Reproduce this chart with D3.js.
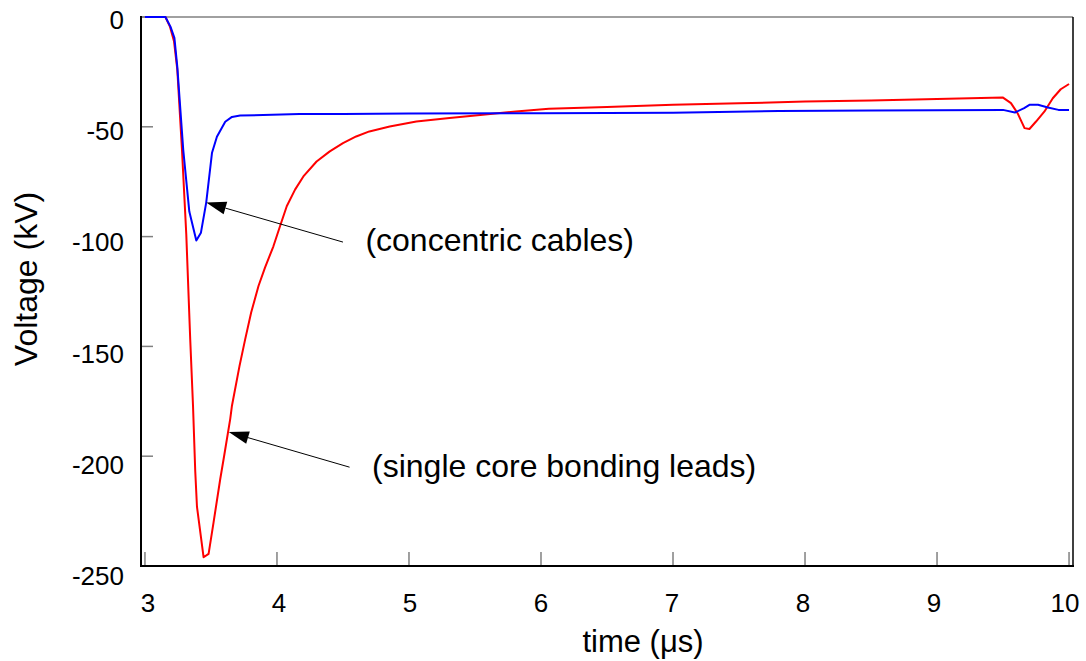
<!DOCTYPE html>
<html>
<head>
<meta charset="utf-8">
<script src="https://cdn.jsdelivr.net/npm/d3@7"></script>
<style>
  html, body { margin: 0; padding: 0; background: #fff; }
  svg { display: block; }
  text { font-family: "Liberation Sans", Arial, sans-serif; fill: #000; }
</style>
</head>
<body>
<svg id="chart" width="1086" height="661"></svg>
<script>
// ---- data ----
const concentricTime = [3.0, 3.155, 3.193, 3.223, 3.245, 3.29, 3.336, 3.389, 3.424, 3.464, 3.508, 3.545, 3.608, 3.659, 3.721, 4.17, 4.5, 5.0, 6.0, 7.0, 7.8, 8.5, 9.0, 9.5, 9.59, 9.66, 9.70, 9.765, 9.84, 9.92, 10.0];
const concentricVolt = [0, 0, -4.4, -9.5, -22.7, -60.5, -88.6, -101.8, -98.2, -84.5, -61.8, -54.5, -47.7, -45.5, -44.9, -44.2, -44.2, -44.0, -43.8, -43.6, -42.8, -42.6, -42.5, -42.3, -43.5, -41.5, -40.0, -40.0, -41.2, -42.3, -42.3];

const singleTime = [3.0, 3.155, 3.19, 3.22, 3.245, 3.28, 3.313, 3.343, 3.364, 3.381, 3.394, 3.444, 3.482, 3.52, 3.57, 3.60, 3.646, 3.659, 3.716, 3.759, 3.804, 3.86, 3.91, 3.973, 4.023, 4.074, 4.137, 4.2, 4.3, 4.4, 4.5, 4.6, 4.7, 4.854, 5.056, 5.307, 5.559, 5.81, 6.06, 6.5, 7.0, 7.5, 8.0, 8.5, 9.0, 9.5, 9.56, 9.61, 9.663, 9.70, 9.75, 9.814, 9.877, 9.937, 10.0];
const singleVolt = [0, 0, -4.5, -11, -24, -60, -99, -147, -177, -207, -223, -246, -244.5, -230, -210.5, -199.8, -183, -177, -159, -146.8, -134.7, -122.5, -114, -104.4, -95.3, -86.2, -78.6, -72.6, -65.8, -61.2, -57.4, -54.4, -52.1, -49.9, -47.6, -46.0, -44.5, -43.0, -41.8, -41.0, -40.0, -39.3, -38.5, -38.0, -37.3, -36.7, -39.2, -43.8, -50.6, -51.0, -47.6, -43.0, -37.0, -32.9, -30.5];

const xTicks = [3, 4, 5, 6, 7, 8, 9, 10];
const yTicks = [0, -50, -100, -150, -200, -250];

const annotations = [
  { text: "(concentric cables)", tipT: 3.464, tipV: -84.5, endT: 4.50, endV: -102.5, labT: 4.67, labV: -106.5 },
  { text: "(single core bonding leads)", tipT: 3.635, tipV: -189, endT: 4.55, endV: -205, labT: 4.72, labV: -209.5 }
];

// ---- layout ----
const svg = d3.select("#chart");
const L = 141, R = 1073, T = 17, B = 566;

const x = d3.scaleLinear().domain([2.97, 10.03]).range([L, R]);
const y = d3.scaleLinear().domain([0, -250]).range([T, B]);
// label positions (labels in the original are spaced slightly differently from ticks)
const xLab = d3.scaleLinear().domain([3, 10]).range([148, 1065]);
const yLab = d3.scaleLinear().domain([0, -250]).range([29, 585]);

// ticks (grey, pointing inward)
svg.append("g").selectAll("line").data(yTicks).join("line")
  .attr("x1", L).attr("x2", L + 12)
  .attr("y1", d => y(d)).attr("y2", d => y(d))
  .attr("stroke", "#808080").attr("stroke-width", 1.5);
svg.append("g").selectAll("line").data(xTicks).join("line")
  .attr("x1", d => x(d)).attr("x2", d => x(d))
  .attr("y1", B).attr("y2", B - 14)
  .attr("stroke", "#808080").attr("stroke-width", 1.5);

// frame
svg.append("line").attr("x1", L).attr("x2", R).attr("y1", T).attr("y2", T)
  .attr("stroke", "#808080").attr("stroke-width", 1.5);
svg.append("line").attr("x1", R).attr("x2", R).attr("y1", T).attr("y2", B)
  .attr("stroke", "#000").attr("stroke-width", 1.5);
svg.append("line").attr("x1", L).attr("x2", R + 1).attr("y1", B).attr("y2", B)
  .attr("stroke", "#000").attr("stroke-width", 2);
svg.append("line").attr("x1", L).attr("x2", L).attr("y1", T - 1).attr("y2", B + 1)
  .attr("stroke", "#000").attr("stroke-width", 2);

// tick labels
svg.append("g").selectAll("text").data(yTicks).join("text")
  .attr("x", 124).attr("y", d => yLab(d))
  .attr("text-anchor", "end").attr("font-size", 26)
  .text(d => d);
svg.append("g").selectAll("text").data(xTicks).join("text")
  .attr("x", d => xLab(d)).attr("y", 612)
  .attr("text-anchor", "middle").attr("font-size", 26)
  .text(d => d);

// axis titles
svg.append("text").attr("x", 643).attr("y", 652)
  .attr("text-anchor", "middle").attr("font-size", 31)
  .text("time (μs)");
svg.append("text").attr("transform", "translate(37,279) rotate(-90)")
  .attr("text-anchor", "middle").attr("font-size", 32)
  .text("Voltage (kV)");

// curves
const line = d3.line().x(d => x(d[0])).y(d => y(d[1]));
const single = singleTime.map((t, i) => [t, singleVolt[i]]);
const concentric = concentricTime.map((t, i) => [t, concentricVolt[i]]);

svg.append("path").datum(single).attr("d", line)
  .attr("fill", "none").attr("stroke", "#ff0000").attr("stroke-width", 2)
  .attr("stroke-linejoin", "round");
svg.append("path").datum(concentric).attr("d", line)
  .attr("fill", "none").attr("stroke", "#0000ff").attr("stroke-width", 2)
  .attr("stroke-linejoin", "round");

// annotations with arrows
const ag = svg.append("g");
annotations.forEach(a => {
  const tx = x(a.tipT), ty = y(a.tipV), ex = x(a.endT), ey = y(a.endV);
  const ang = Math.atan2(ey - ty, ex - tx);
  const hl = 20, hw = 6.5;
  const bx = tx + hl * Math.cos(ang), by = ty + hl * Math.sin(ang);
  ag.append("line").attr("x1", bx).attr("y1", by).attr("x2", ex).attr("y2", ey)
    .attr("stroke", "#000").attr("stroke-width", 1);
  const p1 = [bx - hw * Math.sin(ang), by + hw * Math.cos(ang)];
  const p2 = [bx + hw * Math.sin(ang), by - hw * Math.cos(ang)];
  ag.append("path").attr("d", `M${tx},${ty}L${p1[0]},${p1[1]}L${p2[0]},${p2[1]}Z`)
    .attr("fill", "#000");
  ag.append("text").attr("x", x(a.labT)).attr("y", y(a.labV))
    .attr("font-size", 32).text(a.text);
});
</script>
</body>
</html>
